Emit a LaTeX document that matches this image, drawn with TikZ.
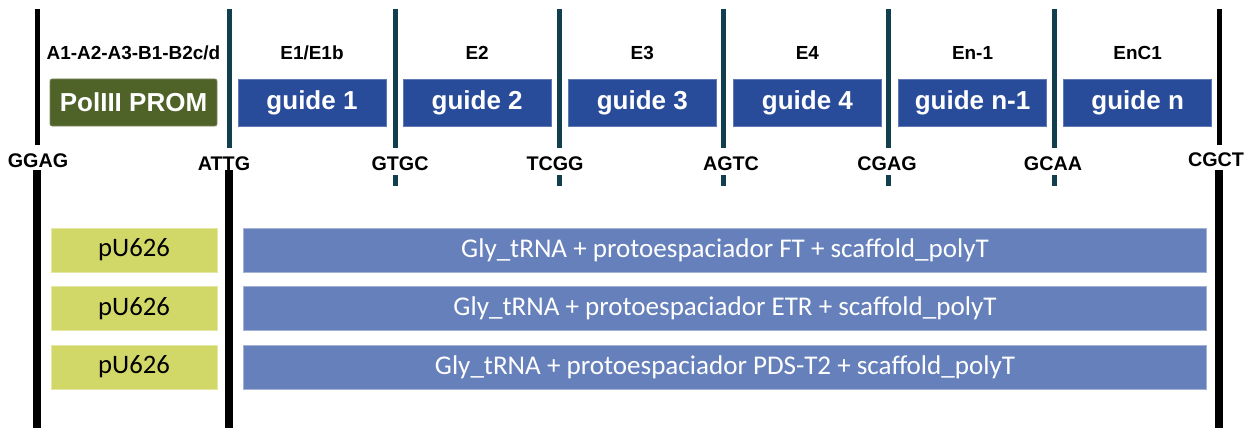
\documentclass[tikz,border=0pt]{standalone}
\usepackage{fontspec}
\setmainfont{Liberation Sans}
\newfontfamily\calibri{Carlito}
\usetikzlibrary{positioning}

\definecolor{promvert}{HTML}{4F6228}
\definecolor{guidebleu}{HTML}{294C9A}
\definecolor{coupe}{HTML}{123F4E}
\definecolor{pujaune}{HTML}{D2D868}
\definecolor{rangbleu}{HTML}{6580BB}

\begin{document}
\begin{tikzpicture}[x=0.75pt, y=-0.75pt,
  guide/.style={fill=guidebleu, draw=guidebleu!75!white, line width=0.4pt, text=white,
    font=\bfseries\fontsize{19.5}{20}\selectfont, minimum width=111pt,
    minimum height=35.25pt, inner sep=0pt},
  toplab/.style={font=\bfseries\fontsize{14.2}{15}\selectfont, anchor=base},
  seqlab/.style={font=\bfseries\fontsize{14.8}{15}\selectfont, anchor=base},
  pubox/.style={fill=pujaune, draw=pujaune!60!white, line width=0.4pt,
    font=\calibri\fontsize{20}{21}\selectfont, minimum width=124.5pt,
    minimum height=33pt, inner sep=0pt},
  rangbox/.style={fill=rangbleu, draw=rangbleu!60!white, line width=0.4pt, text=white,
    font=\calibri\fontsize{20.3}{21}\selectfont, minimum width=722.25pt,
    minimum height=33pt, inner sep=0pt},
  cutline/.style={line width=3.75pt},
  bigline/.style={line width=6pt}]
  \useasboundingbox (0,0) rectangle (1253,428);

  % Traits de coupe (haut)
  \draw[cutline, black] (37,9) -- (37,145);
  \draw[cutline, black] (1219,9) -- (1219,145);
  \foreach \x in {229,395,559,723,888,1054}
    \draw[cutline, coupe] (\x,9) -- (\x,148);

  % Traits de coupe (bas)
  \foreach \x in {37,229,1219}
    \draw[bigline, black] (\x,170) -- (\x,428);
  \foreach \x in {395,559,723,888,1054}
    \draw[cutline, coupe] (\x,175) -- (\x,186);

  % Sequences des jonctions
  \node[seqlab] (ggag) at (38,167) {GGAG};
  \node[seqlab] (attg) at (224,170) {ATTG};
  \node[seqlab] (gtgc) at (400,170) {GTGC};
  \node[seqlab] (tcgg) at (555,170) {TCGG};
  \node[seqlab] (agtc) at (731,170) {AGTC};
  \node[seqlab] (cgag) at (887,170) {CGAG};
  \node[seqlab] (gcaa) at (1053,170) {GCAA};
  \node[seqlab] (cgct) at (1216,166) {CGCT};

  % Promoteur et guides
  \node[fill=promvert, draw=promvert!75!white, line width=0.4pt, rounded corners=1.5pt,
    text=white, font=\bfseries\fontsize{19.5}{20}\selectfont, minimum width=125.25pt,
    minimum height=35.25pt, inner sep=0pt] (prom) at (133.5,102.5) {PolIII PROM};
  \node[guide] (g1) at (312,102.5) {guide 1};
  \node[guide, right=12.45pt of g1] (g2) {guide 2};
  \node[guide, right=12.45pt of g2] (g3) {guide 3};
  \node[guide, right=12.45pt of g3] (g4) {guide 4};
  \node[guide, right=12.45pt of g4] (gn1) {guide n-1};
  \node[guide, right=12.45pt of gn1] (gn) {guide n};

  % Etiquettes du haut
  \node[toplab, above=14.25pt of prom, anchor=base] (lprom) {A1-A2-A3-B1-B2c/d};
  \node[toplab, above=14.25pt of g1, anchor=base] (lg1) {E1/E1b};
  \node[toplab, above=14.25pt of g2, anchor=base] (lg2) {E2};
  \node[toplab, above=14.25pt of g3, anchor=base] (lg3) {E3};
  \node[toplab, above=14.25pt of g4, anchor=base] (lg4) {E4};
  \node[toplab, above=14.25pt of gn1, anchor=base] (lgn1) {En-1};
  \node[toplab, above=14.25pt of gn, anchor=base] (lgn) {EnC1};

  % Constructions pU626
  \node[pubox] (pu1) at (134,250) {pU626};
  \node[pubox, below=10.5pt of pu1] (pu2) {pU626};
  \node[pubox, below=10.5pt of pu2] (pu3) {pU626};
  \node[rangbox, right=19.5pt of pu1] (ft) {Gly\_tRNA + protoespaciador FT + scaffold\_polyT};
  \node[rangbox, right=19.5pt of pu2] (etr) {Gly\_tRNA + protoespaciador ETR + scaffold\_polyT};
  \node[rangbox, right=19.5pt of pu3] (pds) {Gly\_tRNA + protoespaciador PDS-T2 + scaffold\_polyT};
\end{tikzpicture}
\end{document}
